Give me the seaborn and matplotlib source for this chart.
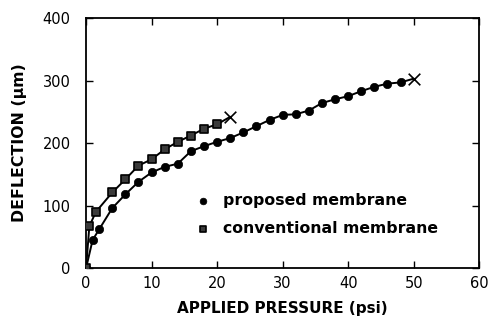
import numpy as np
import pandas as pd
import matplotlib
matplotlib.use('Agg')
import matplotlib.pyplot as plt
import seaborn as sns

# 数据：从图中读取
prop_x = [0, 1, 2, 4, 6, 8, 10, 12, 14, 16, 18, 20, 22, 24, 26, 28, 30, 32, 34, 36, 38, 40, 42, 44, 46, 48]
prop_y = [0, 45, 62, 96, 118, 138, 153, 162, 167, 187, 195, 202, 208, 217, 227, 237, 245, 246, 252, 264, 270, 275, 283, 290, 295, 297]
prop_fail = (50, 303)

conv_x = [0, 0.5, 1.5, 4, 6, 8, 10, 12, 14, 16, 18, 20]
conv_y = [0, 67, 90, 121, 142, 164, 174, 190, 202, 212, 223, 230]
conv_fail = (22, 242)

x_ticks = [0, 10, 20, 30, 40, 50, 60]
y_ticks = [0, 100, 200, 300, 400]

sns.set_style('ticks')
plt.rcParams['font.family'] = ['DejaVu Sans']
# 全部文字和坐标轴用纯黑
for key in ['text.color', 'axes.labelcolor', 'xtick.color', 'ytick.color', 'axes.edgecolor']:
    plt.rcParams[key] = 'black'

fig = plt.figure(figsize=(4.89, 3.27), dpi=100)
ax = fig.add_axes([0.176, 0.180, 0.804, 0.765])

# 拟合曲线（连到破裂点）
line_p = pd.DataFrame({'x': prop_x + [prop_fail[0]], 'y': prop_y + [prop_fail[1]]})
line_c = pd.DataFrame({'x': conv_x + [conv_fail[0]], 'y': conv_y + [conv_fail[1]]})
sns.lineplot(data=line_p, x='x', y='y', ax=ax, color='black', lw=1.4, sort=False, legend=False)
sns.lineplot(data=line_c, x='x', y='y', ax=ax, color='black', lw=1.4, sort=False, legend=False)

# 数据点
sns.scatterplot(x=prop_x, y=prop_y, ax=ax, marker='o', s=36, color='black',
                edgecolor='black', linewidth=0.5, label='proposed membrane', zorder=3)
sns.scatterplot(x=conv_x, y=conv_y, ax=ax, marker='s', s=34, color='#3a3a3a',
                edgecolor='black', linewidth=1.2, label='conventional membrane', zorder=3)

# 破裂点
ax.scatter(*prop_fail, marker='x', s=70, color='black', linewidths=1.2, zorder=3)
ax.scatter(*conv_fail, marker='x', s=70, color='black', linewidths=1.2, zorder=3)

ax.set_xlim(0, 60)
ax.set_ylim(0, 400)
ax.set_xticks(x_ticks)
ax.set_yticks(y_ticks)
ax.tick_params(direction='in', length=5, width=1.0, labelsize=10.5, top=True, right=True,
               labeltop=False, labelright=False)
ax.tick_params(axis='x', pad=6)
ax.tick_params(axis='y', pad=11)
for s in ax.spines.values():
    s.set_linewidth(1.3)

ax.set_xlabel('APPLIED PRESSURE (psi)', fontsize=11, fontweight='bold', labelpad=7)
ax.set_ylabel('DEFLECTION (\u00b5m)', fontsize=11.3, fontweight='bold', labelpad=11)

leg = ax.legend(loc='upper left', bbox_to_anchor=(0.277, 0.30), frameon=False,
                prop={'weight': 'bold', 'size': 11.3}, handletextpad=0.8,
                handlelength=1.0, labelspacing=0.8, markerscale=0.8,
                borderpad=0, borderaxespad=0)

plt.savefig('out.png', dpi=100)
